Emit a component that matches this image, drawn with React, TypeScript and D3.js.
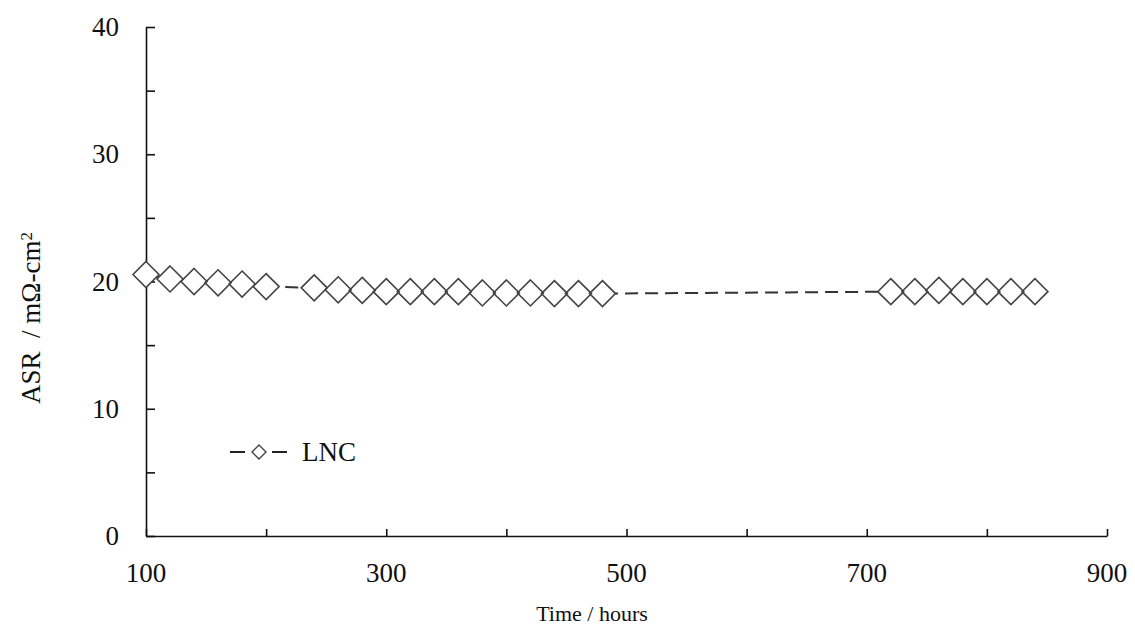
import React, { useEffect, useRef } from "react";
import * as d3 from "d3";

// time (hours) and ASR (mOhm-cm2)
const hours = [
  100, 120, 140, 160, 180, 200,
  240, 260, 280, 300, 320, 340, 360, 380, 400, 420, 440, 460, 480,
  720, 740, 760, 780, 800, 820, 840,
];
const asr = [
  20.55, 20.2, 20.0, 19.9, 19.8, 19.6,
  19.5, 19.35, 19.3, 19.2, 19.2, 19.2, 19.2, 19.1, 19.1, 19.1, 19.05, 19.05, 19.05,
  19.2, 19.2, 19.3, 19.2, 19.2, 19.2, 19.2,
];
const xTickMarks = [100, 200, 300, 400, 500, 600, 700, 800, 900];
const xTickLabels = [100, 300, 500, 700, 900];
const yTickMarks = [0, 5, 10, 15, 20, 25, 30, 35, 40];
const yTickLabels = [0, 10, 20, 30, 40];
const seriesName = "LNC";

const FONT = "'Times New Roman', 'Liberation Serif', serif";

const App = () => {
  const ref = useRef<SVGSVGElement>(null);

  useEffect(() => {
    const width = 1135;
    const height = 628;
    const svg = d3.select(ref.current).attr("width", width).attr("height", height);
    svg.selectAll("*").remove();

    const x = d3.scaleLinear().domain([100, 900]).range([146, 1107]);
    const y = d3.scaleLinear().domain([0, 40]).range([536, 27]);

    // y axis, ticks pointing inside
    const yAxis = svg
      .append("g")
      .attr("transform", "translate(" + x(100) + ",0)")
      .call(
        d3.axisRight(y).tickValues(yTickMarks).tickSize(9).tickSizeOuter(0).tickFormat(() => "")
      );
    yAxis.selectAll("path,line").attr("stroke", "#111").attr("stroke-width", 1.6);

    // x axis, ticks pointing up
    const xAxis = svg
      .append("g")
      .attr("transform", "translate(0," + y(0) + ")")
      .call(
        d3.axisTop(x).tickValues(xTickMarks).tickSize(7).tickSizeOuter(0).tickFormat(() => "")
      );
    xAxis.selectAll("path,line").attr("stroke", "#111").attr("stroke-width", 1.6);

    // tick labels
    svg
      .selectAll(".ylab")
      .data(yTickLabels)
      .enter()
      .append("text")
      .attr("x", 119)
      .attr("y", (d) => y(d))
      .attr("dy", "0.34em")
      .attr("text-anchor", "end")
      .style("font-family", FONT)
      .style("font-size", "27px")
      .style("fill", "#111")
      .text((d) => d);

    svg
      .selectAll(".xlab")
      .data(xTickLabels)
      .enter()
      .append("text")
      .attr("x", (d) => x(d))
      .attr("y", y(0) + 46)
      .attr("text-anchor", "middle")
      .style("font-family", FONT)
      .style("font-size", "27px")
      .style("fill", "#111")
      .text((d) => d);

    // axis titles
    svg
      .append("text")
      .attr("x", 592)
      .attr("y", 621)
      .attr("text-anchor", "middle")
      .style("font-family", FONT)
      .style("font-size", "22px")
      .style("fill", "#111")
      .text("Time / hours");

    const yt = svg
      .append("text")
      .attr("transform", "translate(40,318) rotate(-90)")
      .attr("text-anchor", "middle")
      .style("font-family", FONT)
      .style("font-size", "27px")
      .style("fill", "#111")
      .style("white-space", "pre");
    yt.append("tspan").text("ASR  / m\u03A9-cm");
    yt.append("tspan").attr("dy", "-0.45em").style("font-size", "17px").text("2");

    // dashed connecting line
    const pts: [number, number][] = hours.map((h, i) => [h, asr[i]]);
    const line = d3
      .line<[number, number]>()
      .x((d) => x(d[0]))
      .y((d) => y(d[1]));
    svg
      .append("path")
      .datum(pts)
      .attr("d", line)
      .attr("fill", "none")
      .attr("stroke", "#333")
      .attr("stroke-width", 2)
      .attr("stroke-dasharray", "13,7");

    // diamond markers: white fill first, then outlines on top
    const diamond = (r: number) => "M0," + -r + "L" + r + ",0L0," + r + "L" + -r + ",0Z";
    svg
      .selectAll(".mfill")
      .data(pts)
      .enter()
      .append("path")
      .attr("transform", (d) => "translate(" + x(d[0]) + "," + y(d[1]) + ")")
      .attr("d", diamond(13))
      .attr("fill", "#fff");
    svg
      .selectAll(".mline")
      .data(pts)
      .enter()
      .append("path")
      .attr("transform", (d) => "translate(" + x(d[0]) + "," + y(d[1]) + ")")
      .attr("d", diamond(13))
      .attr("fill", "none")
      .attr("stroke", "#444")
      .attr("stroke-width", 1.6);

    // legend
    const lg = svg.append("g").attr("transform", "translate(230,452)");
    lg.append("line").attr("x1", 0).attr("x2", 15).attr("stroke", "#222").attr("stroke-width", 2);
    lg.append("line").attr("x1", 42).attr("x2", 57).attr("stroke", "#222").attr("stroke-width", 2);
    lg.append("path")
      .attr("transform", "translate(29,0)")
      .attr("d", diamond(7))
      .attr("fill", "#fff")
      .attr("stroke", "#444")
      .attr("stroke-width", 1.4);
    lg.append("text")
      .attr("x", 72)
      .attr("y", 0)
      .attr("dy", "0.34em")
      .style("font-family", FONT)
      .style("font-size", "27px")
      .style("fill", "#111")
      .text(seriesName);
  }, []);

  return (
    <div>
      <style>{"body{margin:0}"}</style>
      <svg ref={ref} style={{ display: "block" }}></svg>
    </div>
  );
};

export default App;
